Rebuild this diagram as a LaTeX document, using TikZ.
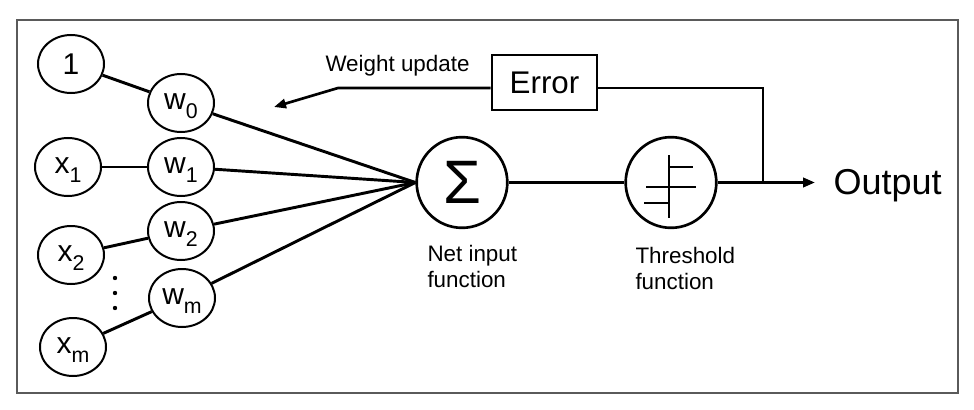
\documentclass[tikz,border=0pt]{standalone}
\usepackage{fontspec}
\setmainfont{Liberation Sans}
\usetikzlibrary{shapes.geometric,arrows.meta}
\newcommand{\unitfont}{\fontsize{22.5}{25}\selectfont}
\newcommand{\capfont}{\fontsize{16.8}{19.5}\selectfont}
\newcommand{\sbs}[1]{\raisebox{-6.5pt}{\fontsize{16}{16}\selectfont #1}}
\tikzset{every picture/.style={line width=0.75pt}}
\tikzset{
  unitnode/.style={draw, ellipse, line width=1.5pt, minimum width=49.5pt, minimum height=43.5pt, inner sep=0pt, font=\unitfont},
  subnode/.style={unitnode, text height=15pt, text depth=5pt},
  opnode/.style={draw, circle, line width=2pt, minimum size=68pt, inner sep=0pt},
  link/.style={line width=2.2pt},
  fbline/.style={line width=2pt},
  caption/.style={anchor=north west, inner sep=0pt, align=left, font=\capfont},
  tip/.style={-{Triangle[length=9pt,width=7pt]}},
}

\begin{document}
\begin{tikzpicture}[x=0.75pt,y=0.75pt,yscale=-1,xscale=1]
    \useasboundingbox (0,0) rectangle (974,410);
    % Frame
    \draw [color={rgb, 255:red, 90; green, 90; blue, 90 }, line width=1pt] (17,20) rectangle (958,393);
    % Inputs
    \node [unitnode] (in1) at (71,64) {1};
    \node [subnode] (inx1) at (68,167) {x\sbs{1}};
    \node [subnode] (inx2) at (71,255) {x\sbs{2}};
    \node [subnode] (inxm) at (73,347) {x\sbs{m}};
    \foreach \y in {278,293,308} \fill (115,\y) circle [radius=2.2];
    % Weights
    \node [subnode] (wt0) at (181,103) {w\sbs{0}};
    \node [subnode] (wt1) at (181,167) {w\sbs{1}};
    \node [subnode] (wt2) at (181,231) {w\sbs{2}};
    \node [subnode] (wtm) at (182,298) {w\sbs{m}};
    % Net input and threshold
    \node [opnode] (sum) at (462,182.5) {\fontsize{46}{46}\selectfont Σ};
    \node [opnode] (thresh) at (671,182.5) {};
    \draw [line width=1.2pt] (thresh.center) ++(-2,-27.5) -- ++(0,63);
    \draw [line width=1.2pt] (thresh.center) ++(-25,4.5) -- ++(50,0);
    \draw [line width=2pt] (thresh.center) ++(-27,20.5) -- ++(25,0) -- ++(0,-36) -- ++(24,0);
    \node [caption] (netcap) at (427,245) {Net input\\function};
    \node [caption] (thrcap) at (635,247) {Threshold\\function};
    % Error and output
    \node [draw, line width=2pt, minimum width=78.75pt, minimum height=41.25pt, inner sep=0pt, font=\fontsize{23.5}{26}\selectfont] (err) at (544.5,82.5) {Error};
    \node [anchor=base west, inner xsep=13.5pt, inner ysep=0pt, font=\fontsize{27}{30}\selectfont] (out) at (815,194) {Output};
    \node [anchor=base west, inner sep=0pt, font=\capfont] (wlabel) at (325,72) {Weight update};
    \coordinate (split) at (763,182.5);
    \coordinate (fb) at (763,88);
    \coordinate (bend) at (338,88);
    \coordinate (wtip) at (274,107);
    % Connections
    \draw [link] (in1) -- (wt0);
    \draw [link] (inx1) -- (wt1);
    \draw [link] (inx2) -- (wt2);
    \draw [link] (inxm) -- (wtm);
    \foreach \w in {wt0,wt1,wt2,wtm} \draw [link] (\w) -- (sum.west);
    \draw [link] (sum) -- (thresh);
    \draw [link, tip] (thresh) -- (thresh -| out.west);
    % Feedback
    \draw [fbline] (split) |- (err.east |- fb);
    \draw [fbline, tip] (err.west |- fb) -- (bend) -- (wtip);

\end{tikzpicture}
\end{document}
